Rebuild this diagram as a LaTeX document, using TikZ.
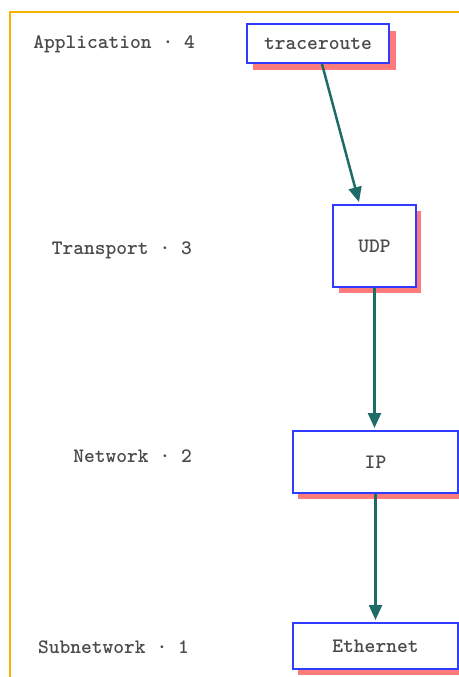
\documentclass[tikz,border=0pt]{standalone}
\usetikzlibrary{arrows.meta}
\definecolor{framegold}{HTML}{F5B400}
\definecolor{boxblue}{HTML}{2F3CFF}
\definecolor{shadowred}{HTML}{FF7A7A}
\definecolor{arrowteal}{HTML}{1E6B68}
\definecolor{labelgray}{HTML}{4A4A4A}
\begin{document}
\begin{tikzpicture}[x=1pt,y=-1pt,
  monotext/.style={font=\ttfamily\bfseries\fontsize{20.5}{20.5}\selectfont,text=labelgray},
  layer/.style={monotext,draw=boxblue,line width=2pt,fill=white,
    inner sep=0pt,anchor=north west},
  levellabel/.style={monotext,anchor=east,inner sep=0pt},
  flow/.style={draw=arrowteal,line width=2.5pt,shorten >=2pt,-{Triangle[length=15pt,width=13pt]}}]
\useasboundingbox (0,0) rectangle (458,677);
% page frame, running off the right and bottom edges
\draw[framegold,line width=1.3pt] (10,680) -- (10,12) -- (462,12);
% drop shadows
\fill[shadowred] (253,31) rectangle (396,70);
\fill[shadowred] (339,211) rectangle (421,293);
\fill[shadowred] (298,437) rectangle (462,499);
\fill[shadowred] (298,629) rectangle (462,675);
% protocol boxes
\node[layer,minimum width=142pt,minimum height=39pt] (app) at (246,23) {traceroute};
\node[layer,minimum width=83pt,minimum height=82pt] (udp) at (332,204) {UDP};
\node[layer,minimum width=165pt,minimum height=62pt] (ip) at (292,430) {IP};
\node[layer,minimum width=165pt,minimum height=46pt] (eth) at (292,622) {Ethernet};
% layer names
\node[levellabel] (l4) at (195,44) {Application · 4};
\node[levellabel] (l3) at (192,250) {Transport · 3};
\node[levellabel] (l2) at (192,456) {Network · 2};
\node[levellabel] (l1) at (189,647) {Subnetwork · 1};
% connectors
\draw[flow] ([xshift=76pt]app.south west) -- ([xshift=-15pt]udp.north);
\draw[flow] (udp.south) -- (udp.south |- ip.north);
\draw[flow] (ip.south) -- (ip.south |- eth.north);
\end{tikzpicture}
\end{document}
